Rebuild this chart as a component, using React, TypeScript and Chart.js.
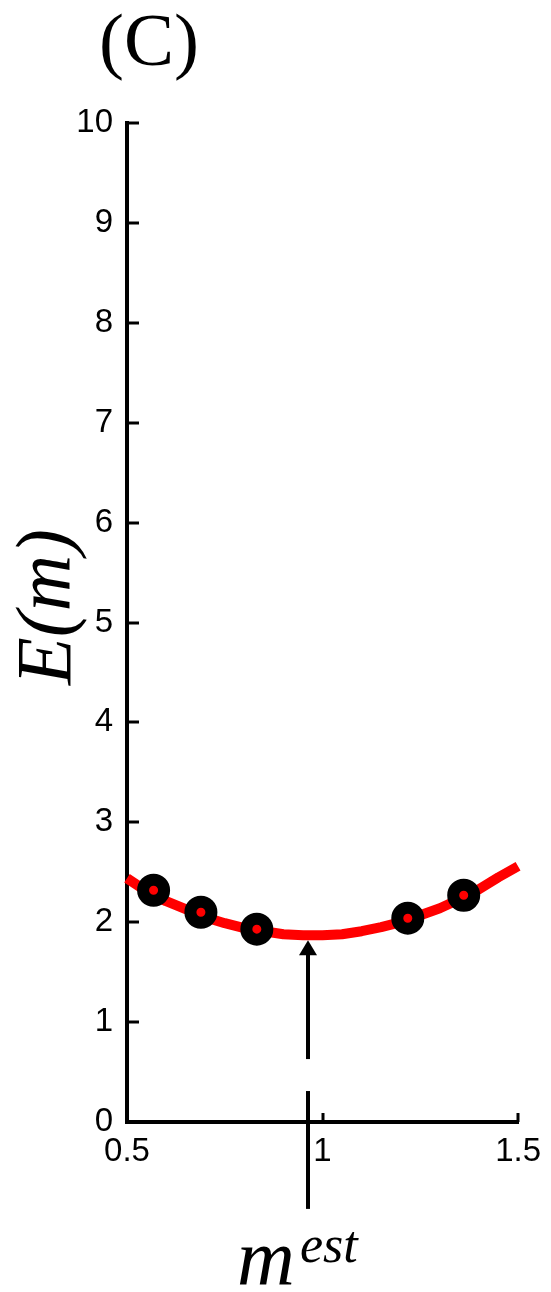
import React, { useEffect, useRef } from 'react';
import { Chart, registerables } from 'chart.js';

Chart.register(...registerables);

// ---- data ----
const curveM = [0.5, 0.55, 0.6, 0.65, 0.7, 0.75, 0.8, 0.85, 0.9, 0.95, 1.0, 1.05, 1.1, 1.15, 1.2, 1.25, 1.3, 1.35, 1.4, 1.45, 1.5];
const curveE = [2.44, 2.31, 2.21, 2.13, 2.05, 1.99, 1.94, 1.91, 1.88, 1.87, 1.87, 1.88, 1.91, 1.95, 2.0, 2.07, 2.14, 2.23, 2.33, 2.45, 2.56];
const sampleM = [0.568, 0.689, 0.832, 1.218, 1.361];
const sampleE = [2.32, 2.1, 1.93, 2.04, 2.27];
const xTickValues = [0.5, 1, 1.5];
const yTickValues = [0, 1, 2, 3, 4, 5, 6, 7, 8, 9, 10];
const mEst = 0.963;
const arrowSpan = [0.63, 1.82]; // E range of the arrow (base, tip)
const markSpan = [-0.87, 0.31]; // E range of the marker line crossing the axis

const titleText = '(C)';
const yTitle = 'E(m)';
const xTitleMain = 'm';
const xTitleSup = 'est';

const decorPlugin = {
  id: 'decor',
  afterDraw(chart: any) {
    const { ctx, chartArea } = chart;
    const x = chart.scales.x;
    const y = chart.scales.y;
    ctx.save();
    ctx.strokeStyle = '#000';
    ctx.fillStyle = '#000';
    ctx.lineWidth = 3;
    yTickValues.forEach((v) => {
      const py = Math.round(y.getPixelForValue(v));
      ctx.beginPath();
      ctx.moveTo(chartArea.left, py);
      ctx.lineTo(chartArea.left + 12, py);
      ctx.stroke();
    });
    xTickValues.forEach((v) => {
      const px = Math.round(x.getPixelForValue(v));
      ctx.beginPath();
      ctx.moveTo(px, chartArea.bottom);
      ctx.lineTo(px, chartArea.bottom - 9);
      ctx.stroke();
    });

    // arrow
    const ax = Math.round(x.getPixelForValue(mEst));
    const tipY = y.getPixelForValue(arrowSpan[1]);
    const baseY = y.getPixelForValue(arrowSpan[0]);
    ctx.lineWidth = 4;
    ctx.beginPath();
    ctx.moveTo(ax, baseY);
    ctx.lineTo(ax, tipY + 12);
    ctx.stroke();
    ctx.beginPath();
    ctx.moveTo(ax, tipY);
    ctx.lineTo(ax - 9, tipY + 15);
    ctx.lineTo(ax + 9, tipY + 15);
    ctx.closePath();
    ctx.fill();

    // marker line crossing the x axis
    ctx.beginPath();
    ctx.moveTo(ax, y.getPixelForValue(markSpan[1]));
    ctx.lineTo(ax, y.getPixelForValue(markSpan[0]));
    ctx.stroke();

    // title
    ctx.textAlign = 'center';
    ctx.textBaseline = 'alphabetic';
    ctx.font = '75px "Liberation Serif", "Times New Roman", serif';
    ctx.fillText(titleText, 149, 65);

    // y title
    ctx.save();
    ctx.translate(70, 607);
    ctx.rotate(-Math.PI / 2);
    ctx.font = 'italic 78px "Liberation Serif", "Times New Roman", serif';
    ctx.textAlign = 'center';
    ctx.fillText(yTitle, 0, 0);
    ctx.restore();

    // x title
    ctx.textAlign = 'left';
    ctx.font = 'italic 80px "Liberation Serif", "Times New Roman", serif';
    ctx.fillText(xTitleMain, 237, 1284);
    ctx.font = 'italic 52px "Liberation Serif", "Times New Roman", serif';
    ctx.fillText(xTitleSup, 300, 1262);
    ctx.restore();
  },
};

export default function App() {
  const canvasRef = useRef<HTMLCanvasElement | null>(null);

  useEffect(() => {
    const canvas = canvasRef.current;
    if (!canvas) return;
    const tickFont = { family: '"Liberation Sans", Arial, sans-serif', size: 33 };
    const chart = new Chart(canvas, {
      type: 'line',
      data: {
        datasets: [
          {
            label: 'samples',
            data: sampleM.map((m, i) => ({ x: m, y: sampleE[i] })),
            showLine: false,
            pointRadius: 10.5,
            pointBorderWidth: 12,
            pointBackgroundColor: '#ff0000',
            pointBorderColor: '#000000',
            pointHoverRadius: 10.5,
            order: 0,
          },
          {
            label: 'E(m)',
            data: curveM.map((m, i) => ({ x: m, y: curveE[i] })),
            borderColor: '#ff0000',
            borderWidth: 10,
            pointRadius: 0,
            tension: 0,
            borderJoinStyle: 'round',
            clip: 8,
            order: 1,
          },
        ],
      },
      options: {
        responsive: false,
        animation: false,
        events: [],
        layout: { padding: { left: 0, right: 30, top: 123, bottom: 0 } },
        plugins: {
          legend: { display: false },
          tooltip: { enabled: false },
          title: { display: false },
        },
        scales: {
          x: {
            type: 'linear',
            min: 0.5,
            max: 1.5,
            afterBuildTicks: (scale: any) => {
              scale.ticks = xTickValues.map((v) => ({ value: v }));
            },
            afterFit: (scale: any) => {
              scale.height = 170;
            },
            grid: { display: false, drawTicks: false },
            border: { display: true, color: '#000', width: 4 },
            ticks: {
              font: tickFont,
              color: '#000',
              padding: 10,
              maxRotation: 0,
              autoSkip: false,
              callback: (v: any) => String(v),
            },
          },
          y: {
            type: 'linear',
            min: 0,
            max: 10,
            afterBuildTicks: (scale: any) => {
              scale.ticks = yTickValues.map((v) => ({ value: v }));
            },
            afterFit: (scale: any) => {
              scale.width = 127;
            },
            grid: { display: false, drawTicks: false },
            border: { display: true, color: '#000', width: 4 },
            ticks: {
              font: tickFont,
              color: '#000',
              padding: 14,
              autoSkip: false,
              callback: (v: any) => String(v),
            },
          },
        },
      },
      plugins: [decorPlugin],
    } as any);
    return () => chart.destroy();
  }, []);

  return (
    <div style={{ position: 'absolute', left: 0, top: 0, width: 551, height: 1292, background: '#fff' }}>
      <canvas ref={canvasRef} width={551} height={1292} style={{ display: 'block' }} />
    </div>
  );
}
